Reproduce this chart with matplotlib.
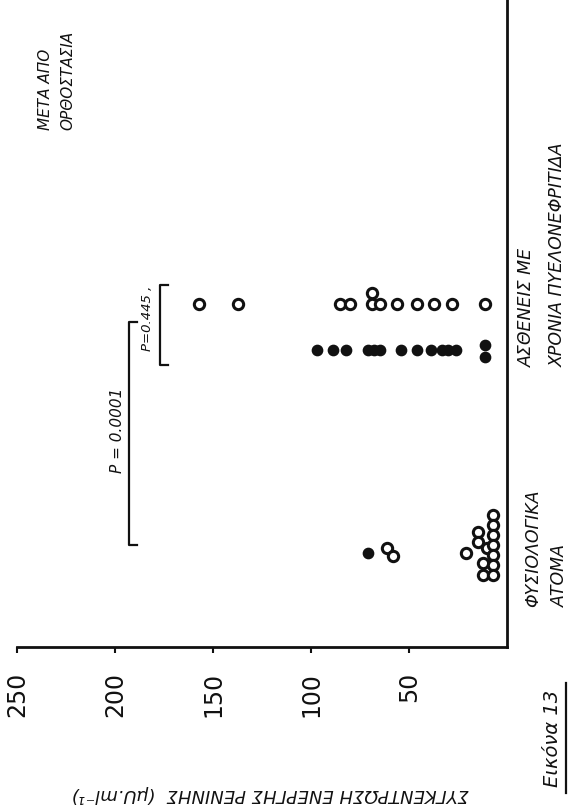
import numpy as np
import matplotlib
matplotlib.use('Agg')
import matplotlib.pyplot as plt
from matplotlib.lines import Line2D

W, H = 570, 810
INK = '#111111'

# values (renin, uU/ml)
value_ticks = [50, 100, 150, 200, 250]
normal_vals = [71, 61, 58, 21, 15, 15, 12, 12, 10, 7, 7, 7, 7, 7, 7, 7]
normal_filled = [True] + [False] * 15
patient_open = [157, 137, 85, 80, 69, 69, 65, 56, 46, 37, 28, 11]
patient_filled = [97, 89, 82, 71, 68, 65, 54, 46, 39, 33, 30, 26, 11, 11]

# small sideways nudges (px) so overlapping circles show as in the scan
normal_dy = [5, 0, 8, 5, -16, -6, 15, 27, 0, -33, -23, -13, -3, 7, 17, 27]
open_dy = [0, 0, 0, 0, -11, 0, 0, 0, 0, 0, 0, 0]
filled_dy = [0] * 12 + [-5, 7]

PX = 221.0                 # px per category unit
ROW_OPEN, ROW_FILLED = 1.104, 0.896


def fx(x):
    return x / W


def fy(y):
    return 1 - y / H


fig = plt.figure(figsize=(W / 100, H / 100), dpi=100)
fig.patch.set_facecolor('white')

# the whole page is turned 90 deg: values run right-to-left, categories up
ax = fig.add_axes([fx(17), 1 - 647 / H, 490 / W, 647 / H])
ax.set_xlim(250, 0)
ax.set_ylim(-(647 - 548) / PX, 548 / PX)
for side in ['left', 'top']:
    ax.spines[side].set_visible(False)
for side in ['right', 'bottom']:
    ax.spines[side].set_linewidth(2.0)
    ax.spines[side].set_color(INK)
ax.set_yticks([])
ax.set_xticks(value_ticks)
ax.set_xticklabels([str(v) for v in value_ticks], rotation=90, fontsize=17,
                   color=INK)
ax.tick_params(axis='x', length=4, width=1.5, pad=14, color=INK)

ms = 55
nv = np.array(normal_vals, float)
ny = -np.array(normal_dy) / PX
nf = np.array(normal_filled)
ax.scatter(nv[~nf], ny[~nf], s=ms, facecolors='white', edgecolors=INK,
           linewidths=2.2, zorder=3)
ax.scatter(nv[nf], ny[nf], s=ms, c=INK, edgecolors=INK, zorder=3)

ax.scatter(patient_open, ROW_OPEN - np.array(open_dy) / PX, s=ms,
           facecolors='white', edgecolors=INK, linewidths=2.2, zorder=3)
ax.scatter(patient_filled, ROW_FILLED - np.array(filled_dy) / PX, s=ms,
           c=INK, edgecolors=INK, zorder=3)


# significance brackets
def bracket(val, y0, y1, hook=4):
    ax.plot([val - hook, val, val, val - hook], [y0, y0, y1, y1],
            color=INK, lw=1.6, clip_on=False)


bracket(177, (548 - 285) / PX, (548 - 365) / PX)
bracket(193, (548 - 322) / PX, (548 - 545) / PX)

kw = dict(rotation=90, color=INK, style='italic', ha='center', va='center')
fig.text(fx(147), fy(318), 'P=0.445 ,', fontsize=9.5, **kw)
fig.text(fx(117), fy(430), 'P = 0.0001', fontsize=11, **kw)

# labels
up = {**kw, 'va': 'bottom'}
fig.text(fx(46), fy(130), 'ΜΕΤΑ ΑΠΟ', fontsize=11, **up)
fig.text(fx(68), fy(130), 'ΟΡΘΟΣΤΑΣΙΑ', fontsize=11, **up)
fig.text(fx(527), fy(367), 'ΑΣΘΕΝΕΙΣ ΜΕ', fontsize=12.5, **up)
fig.text(fx(558), fy(367), 'ΧΡΟΝΙΑ ΠΥΕΛΟΝΕΦΡΙΤΙΔΑ', fontsize=12.5, **up)
fig.text(fx(533), fy(607), 'ΦΥΣΙΟΛΟΓΙΚΑ', fontsize=12.5, **up)
fig.text(fx(560), fy(607), 'ΑΤΟΜΑ', fontsize=12.5, **up)

# value-axis title, upside down because the page is turned
fig.text(fx(270), fy(794), 'ΣΥΓΚΕΝΤΡΩΣΗ ΕΝΕΡΓΗΣ ΡΕΝΙΝΗΣ  (μU.ml⁻¹)',
         fontsize=13, **{**kw, 'rotation': 180})
fig.text(fx(553), fy(738), 'Εικόνα 13', fontsize=14, **kw)
fig.add_artist(Line2D([fx(566), fx(566)], [fy(683), fy(793)],
                      color=INK, lw=1.6))

fig.savefig('out.png', dpi=100, facecolor='white')
